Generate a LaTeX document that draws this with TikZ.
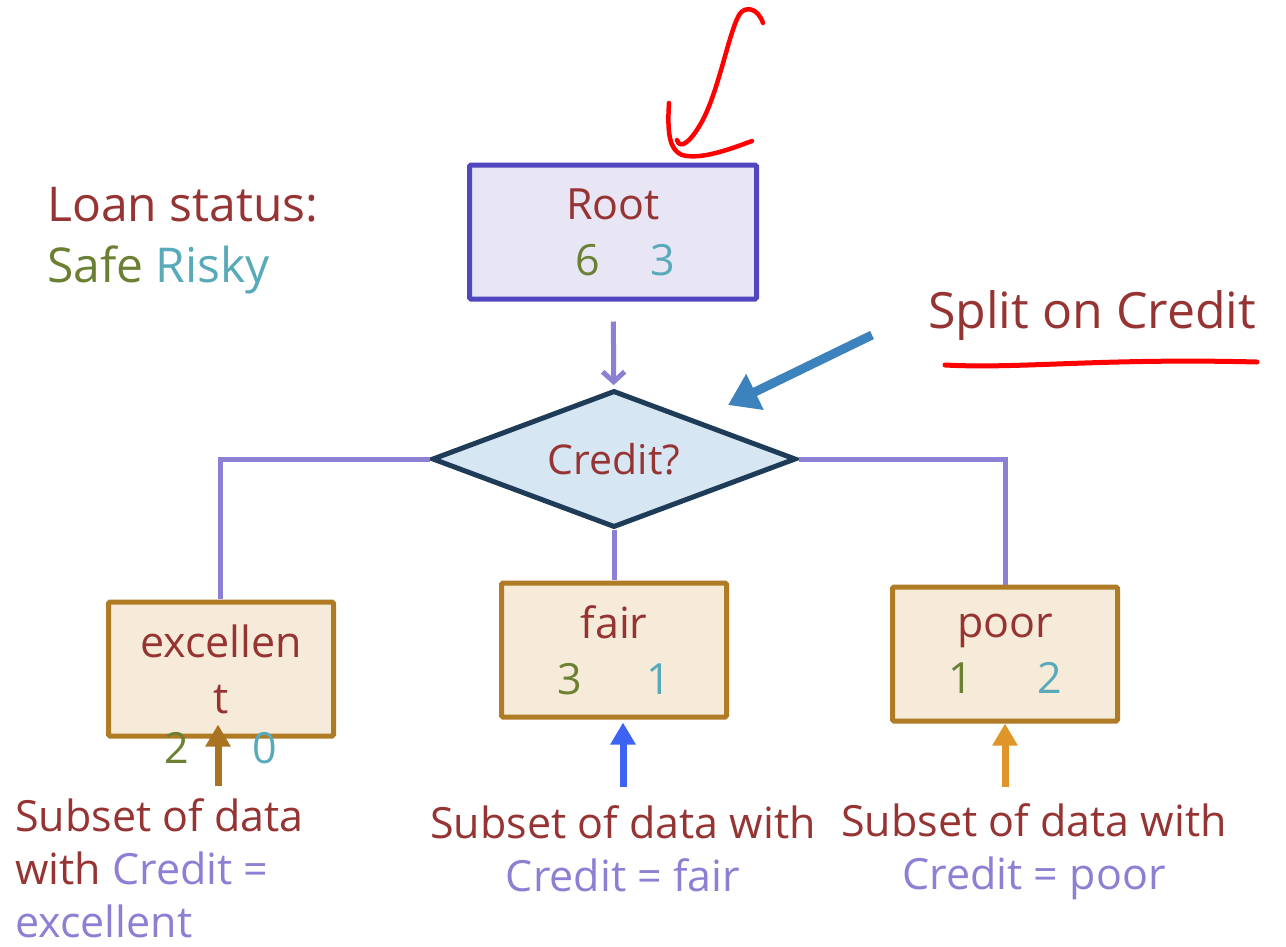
\documentclass[tikz,border=0pt]{standalone}
\usepackage{fontspec}
\setmainfont{Open Sans}
\usepackage{tikz}
\usetikzlibrary{positioning,arrows.meta,shapes.geometric,calc}
\usepackage{xcolor}
\definecolor{labelred}{RGB}{150,52,52}
\definecolor{safegreen}{RGB}{107,128,50}
\definecolor{riskyteal}{RGB}{88,170,186}
\definecolor{lavender}{RGB}{140,128,212}
\definecolor{rootline}{RGB}{82,70,190}
\definecolor{rootfill}{RGB}{232,229,245}
\definecolor{diamline}{RGB}{30,60,88}
\definecolor{diamfill}{RGB}{214,230,243}
\definecolor{leafline}{RGB}{176,123,37}
\definecolor{leaffill}{RGB}{246,235,216}
\definecolor{brownarrow}{RGB}{169,116,34}
\definecolor{bluearrow}{RGB}{61,99,245}
\definecolor{orangearrow}{RGB}{223,149,39}
\definecolor{splitblue}{RGB}{60,130,188}
\definecolor{penred}{RGB}{255,0,0}

\begin{document}
\begin{tikzpicture}[x=1pt,y=-1pt,
  font=\fontsize{43}{53}\selectfont,text=labelred,
  box/.style={draw,line width=5pt,inner sep=0pt,align=center,rounded corners=1.5pt,
    font=\fontsize{43}{56}\selectfont},
  rootbox/.style={box,draw=rootline,fill=rootfill,minimum width=287pt,minimum height=134pt},
  leafbox/.style={box,draw=leafline,fill=leaffill,minimum width=225pt,minimum height=134pt},
  decision/.style={diamond,aspect=2.6,draw=diamline,fill=diamfill,line width=5pt,inner sep=0pt,
    minimum width=364pt,minimum height=137pt},
  branch/.style={lavender,line width=5pt},
  uparrow/.style={line width=7pt,-{Triangle[length=22pt,width=24pt]}},
  note/.style={inner sep=0pt},
  pen/.style={penred,line width=4.5pt,line cap=round,line join=round}]
\useasboundingbox (0,0) rectangle (1286,946);
% Legend
\node[note,anchor=west,align=left,font=\fontsize{48}{61}\selectfont] (legend) at (47,241)
  {Loan status:\\{\color{safegreen}Safe} {\color{riskyteal}Risky}};
% Root and the split
\node[rootbox] (root) at (613,232)
  {Root\\\hspace*{24pt}{\color{safegreen}6}\hspace{50pt}{\color{riskyteal}3}};
\node[decision,font=\fontsize{41}{50}\selectfont] (credit) at (614,459) {Credit?};
\draw[branch,shorten <=20pt,shorten >=3pt,-{Straight Barb[length=10pt,width=22pt]}]
  (root) -- (credit);
% Branches
\draw[branch] (credit.west) -| (220,599) coordinate (excTop);
\draw[branch] (credit.east) -| (1005,585) coordinate (poorTop);
\draw[branch] (credit.south) -- (614,580) coordinate (fairTop);
% Leaves
\node[leafbox] (exc) at (221,669) {excellen\\t};
\node[leafbox] (fair) at (614,650)
  {fair\\{\color{safegreen}3}\hspace{64pt}{\color{riskyteal}1}};
\node[leafbox] (poor) at (1005,654)
  {poor\\{\color{safegreen}1}\hspace{64pt}{\color{riskyteal}2}};
\node[text=safegreen] (excSafe) at (177,748) {2};
\node[text=riskyteal] (excRisky) at (265,748) {0};
% Subsets feeding each leaf
\coordinate (excTail) at (218,786);
\coordinate (fairTail) at (623,787);
\coordinate (poorTail) at (1005,787);
\draw[uparrow,brownarrow,shorten >=-14pt] (excTail) -- (excTail |- exc.south);
\draw[uparrow,bluearrow,shorten >=3pt] (fairTail) -- (fairTail |- fair.south);
\draw[uparrow,orangearrow] (poorTail) -- (poorTail |- poor.south);
\node[note,anchor=west,align=left] (excNote) at (15,868)
  {Subset of data\\with {\color{lavender}Credit =}\\{\color{lavender}excellent}};
\node[note,align=center] (fairNote) at (623,849)
  {Subset of data with\\{\color{lavender}Credit = fair}};
\node[note,align=center] (poorNote) at (1034,852)
  {Subset of data with\\{\color{lavender}Credit = poor}};
% Split note
\node[note,anchor=west,font=\fontsize{50}{60}\selectfont] (split) at (928,316) {Split on Credit};
\coordinate (splitTail) at (872,335);
\coordinate (splitTip) at (728,405);
\draw[splitblue,line width=9pt,-{Triangle[length=30pt,width=38pt]}] (splitTail) -- (splitTip);
% Pen marks
\draw[pen] (763,23) .. controls (758,8) and (745,5) .. (739,15)
  .. controls (728,35) and (718,95) .. (700,125)
  .. controls (690,142) and (680,150) .. (677,140);
\draw[pen] (669,103) .. controls (667,135) and (670,150) .. (682,155)
  .. controls (700,160) and (728,150) .. (752,141);
\draw[pen,line width=5pt] (945,365) .. controls (1020,369) and (1100,358) .. (1257,362);
\end{tikzpicture}
\end{document}
